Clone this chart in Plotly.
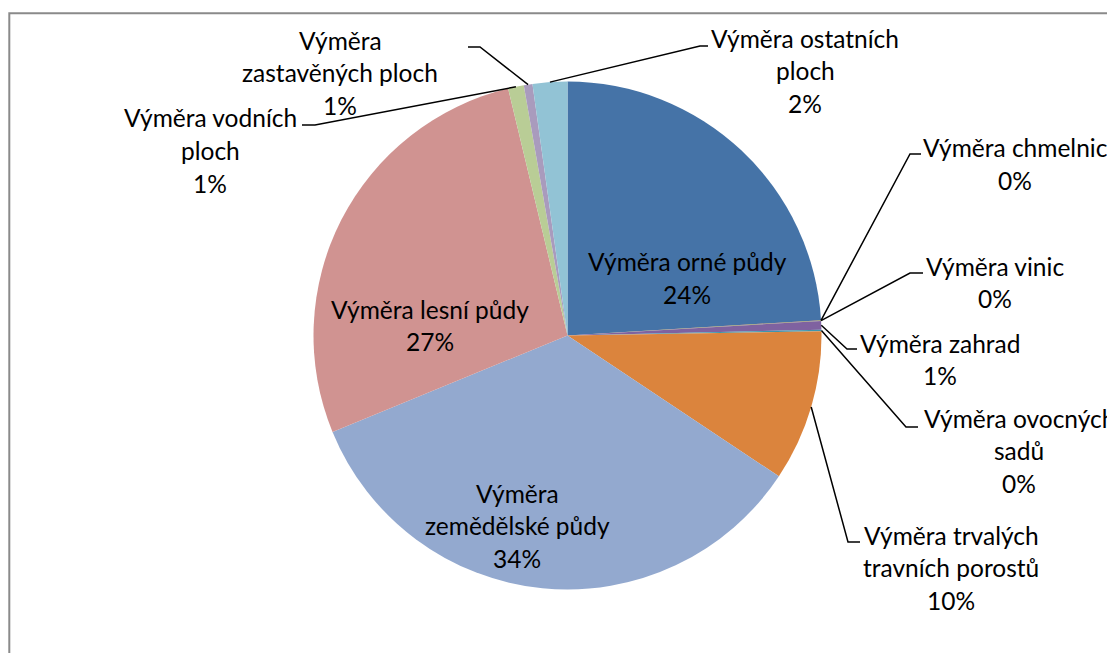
import math
import plotly.graph_objects as go

# ---------------- data ----------------
categories = [
    "Výměra orné půdy",
    "Výměra chmelnic",
    "Výměra vinic",
    "Výměra zahrad",
    "Výměra ovocných sadů",
    "Výměra trvalých travních porostů",
    "Výměra zemědělské půdy",
    "Výměra lesní půdy",
    "Výměra vodních ploch",
    "Výměra zastavěných ploch",
    "Výměra ostatních ploch",
]
values = [24.0, 0.02, 0.03, 0.55, 0.1, 9.6, 34.4, 27.4, 1.0, 0.55, 2.2]
colors = ["#4573A7", "#AA4643", "#89A54E", "#7F62A0", "#3D96AE", "#DB843D",
          "#93A9CF", "#D09391", "#B9CD96", "#A99BBD", "#92C3D5"]

# ---------------- layout constants ----------------
W, H = 1115, 653
OFF = 8  # page body margin of the browser
CX, CY, R = 567.5, 335.5, 254.0
FONT = "Lato"
FS = 24.5
LINE = 32.7

# words before line break in each label (layout of wrapped text)
brk = [None, None, None, None, 2, 2, 1, None, 2, 1, 2]
# first-line centre (window px) of each label
lab_pos = [(687, 262), (1015, 148), (995, 266), (940, 343), (1019, 418),
           (951, 535), (517, 493), (430, 309), (210, 118), (340, 40), (805, 38)]
# leader knee and end points (window px); None = label inside slice
leaders = [None, ((910, 154), (921, 154)), ((910, 273), (923, 273)),
           ((847, 349), (857, 349)), ((906, 427), (918, 427)),
           ((848, 542), (860, 542)), None, None,
           ((315, 125), (302, 125)), ((480, 47), (468, 47)),
           ((700, 46), (708, 46))]

def px(x):
    return (x - OFF) / W

def py(y):
    return 1 - (y - OFF) / H

fig = go.Figure(go.Pie(
    labels=categories, values=values, sort=False, direction="clockwise",
    rotation=0, marker=dict(colors=colors, line=dict(width=0)),
    textinfo="none", hoverinfo="label+percent", showlegend=False,
    domain=dict(x=[px(CX - R), px(CX + R)], y=[py(CY + R), py(CY - R)]),
))

total = sum(values)
cum = 0.0
annotations = []
shapes = []
for i, (cat, v) in enumerate(zip(categories, values)):
    frac = v / total
    mid = (cum + frac / 2) * 2 * math.pi
    cum += frac
    words = cat.split(" ")
    if brk[i] is None:
        lines = [cat]
    else:
        lines = [" ".join(words[:brk[i]]), " ".join(words[brk[i]:])]
    lines.append(f"{round(frac * 100):.0f}%")
    lx, ly = lab_pos[i]
    for k, t in enumerate(lines):
        annotations.append(dict(
            x=px(lx), y=py(ly + k * LINE), xref="paper", yref="paper",
            text=t, showarrow=False, xanchor="center", yanchor="middle",
            font=dict(family=FONT, size=FS, color="#000000")))
    if leaders[i] is not None:
        sx = CX + R * math.sin(mid)
        sy = CY - R * math.cos(mid)
        (kx, ky), (ex, ey) = leaders[i]
        path = f"M {px(sx)},{py(sy)} L {px(kx)},{py(ky)} L {px(ex)},{py(ey)}"
        shapes.append(dict(type="path", path=path, xref="paper", yref="paper",
                           line=dict(color="#000000", width=1.5)))

# chart-area border
shapes.append(dict(type="rect", xref="paper", yref="paper",
                   x0=px(9.3), y0=py(13.3), x1=px(W + 40), y1=py(H + 40),
                   line=dict(color="#8A8A8A", width=2)))

fig.update_layout(
    width=W, height=H, margin=dict(l=0, r=0, t=0, b=0),
    paper_bgcolor="white", plot_bgcolor="white",
    annotations=annotations, shapes=shapes,
    font=dict(family=FONT, size=FS, color="#000000"),
)
fig.write_html("out.html")
